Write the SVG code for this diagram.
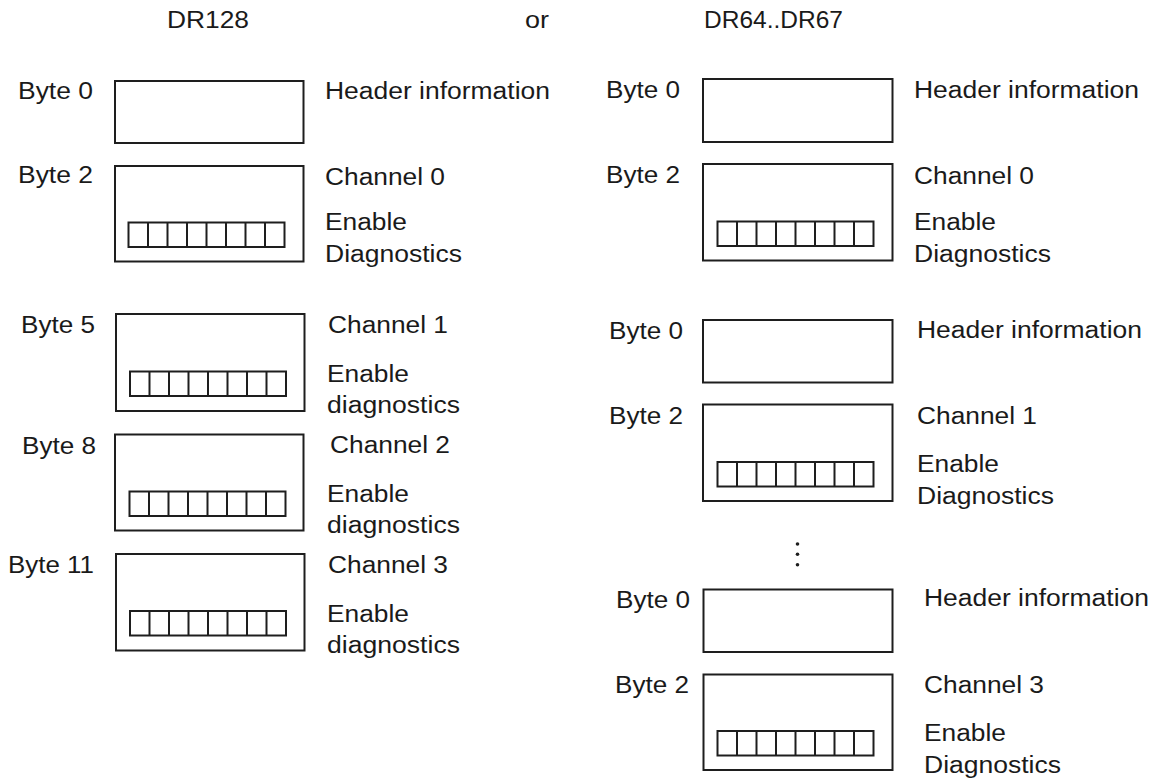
<svg xmlns="http://www.w3.org/2000/svg" width="1152" height="781" viewBox="0 0 1152 781">
  <defs>
    <style>
      .bg { fill: #ffffff; }
      .box { fill: none; stroke: #1e1e1e; stroke-width: 2; }
      .bits { fill: none; stroke: #1e1e1e; stroke-width: 2; }
      .lbl { font-family: "Liberation Sans", Arial, sans-serif; font-size: 23.5px; fill: #1a1a1a; }
      .dot { fill: #1e1e1e; }
    </style>
    <!-- 8-bit enable field: outer frame plus 7 separators (156 x 24.5) -->
    <g id="bitfield">
      <rect class="bits" x="0" y="0" width="156" height="24.5"/>
      <path class="bits" d="M19.5 0V24.5M39 0V24.5M58.5 0V24.5M78 0V24.5M97.5 0V24.5M117 0V24.5M136.5 0V24.5"/>
    </g>
  </defs>

  <rect class="bg" x="0" y="0" width="1152" height="781"/>

  <!-- column titles -->
  <g id="titles">
    <text class="lbl" x="167" y="28" textLength="82" lengthAdjust="spacingAndGlyphs">DR128</text>
    <text class="lbl" x="525" y="28" textLength="24" lengthAdjust="spacingAndGlyphs">or</text>
    <text class="lbl" x="704" y="28" textLength="139" lengthAdjust="spacingAndGlyphs">DR64..DR67</text>
  </g>

  <!-- DR128: one record, header plus four channels -->
  <g id="dr128-header">
    <text class="lbl" x="18" y="99" textLength="75" lengthAdjust="spacingAndGlyphs">Byte 0</text>
    <rect class="box" x="115" y="81" width="188.5" height="62"/>
    <text class="lbl" x="325" y="99" textLength="225" lengthAdjust="spacingAndGlyphs">Header information</text>
  </g>

  <g id="dr128-ch0">
    <text class="lbl" x="18" y="183" textLength="75" lengthAdjust="spacingAndGlyphs">Byte 2</text>
    <rect class="box" x="115" y="166" width="188.5" height="95.5"/>
    <use href="#bitfield" x="128.5" y="222.5"/>
    <text class="lbl" x="325" y="185" textLength="120" lengthAdjust="spacingAndGlyphs">Channel 0</text>
    <text class="lbl" x="325" y="230" textLength="82" lengthAdjust="spacingAndGlyphs">Enable</text>
    <text class="lbl" x="325" y="262" textLength="137" lengthAdjust="spacingAndGlyphs">Diagnostics</text>
  </g>

  <g id="dr128-ch1">
    <text class="lbl" x="21" y="333" textLength="74" lengthAdjust="spacingAndGlyphs">Byte 5</text>
    <rect class="box" x="116" y="314" width="188.5" height="97"/>
    <use href="#bitfield" x="130" y="371.5"/>
    <text class="lbl" x="328" y="333" textLength="120" lengthAdjust="spacingAndGlyphs">Channel 1</text>
    <text class="lbl" x="327" y="381.5" textLength="82" lengthAdjust="spacingAndGlyphs">Enable</text>
    <text class="lbl" x="327" y="413" textLength="133" lengthAdjust="spacingAndGlyphs">diagnostics</text>
  </g>

  <g id="dr128-ch2">
    <text class="lbl" x="22" y="454" textLength="74" lengthAdjust="spacingAndGlyphs">Byte 8</text>
    <rect class="box" x="115" y="434.5" width="188.5" height="96"/>
    <use href="#bitfield" x="129.5" y="491.5"/>
    <text class="lbl" x="330" y="453" textLength="120" lengthAdjust="spacingAndGlyphs">Channel 2</text>
    <text class="lbl" x="327" y="501.5" textLength="82" lengthAdjust="spacingAndGlyphs">Enable</text>
    <text class="lbl" x="327" y="533" textLength="133" lengthAdjust="spacingAndGlyphs">diagnostics</text>
  </g>

  <g id="dr128-ch3">
    <text class="lbl" x="8" y="573" textLength="86" lengthAdjust="spacingAndGlyphs">Byte 11</text>
    <rect class="box" x="116" y="554" width="188.5" height="96.5"/>
    <use href="#bitfield" x="130" y="611"/>
    <text class="lbl" x="328" y="572.5" textLength="120" lengthAdjust="spacingAndGlyphs">Channel 3</text>
    <text class="lbl" x="327" y="621.5" textLength="82" lengthAdjust="spacingAndGlyphs">Enable</text>
    <text class="lbl" x="327" y="652.5" textLength="133" lengthAdjust="spacingAndGlyphs">diagnostics</text>
  </g>

  <!-- DR64..DR67: one record per channel, each with its own header -->
  <g id="dr64-header">
    <text class="lbl" x="606" y="98" textLength="74" lengthAdjust="spacingAndGlyphs">Byte 0</text>
    <rect class="box" x="703" y="79" width="189.5" height="63"/>
    <text class="lbl" x="914" y="98" textLength="225" lengthAdjust="spacingAndGlyphs">Header information</text>
  </g>

  <g id="dr64-ch0">
    <text class="lbl" x="606" y="183" textLength="74" lengthAdjust="spacingAndGlyphs">Byte 2</text>
    <rect class="box" x="703" y="164" width="189.5" height="96.5"/>
    <use href="#bitfield" x="717.5" y="221.5"/>
    <text class="lbl" x="914" y="184" textLength="120" lengthAdjust="spacingAndGlyphs">Channel 0</text>
    <text class="lbl" x="914" y="230" textLength="82" lengthAdjust="spacingAndGlyphs">Enable</text>
    <text class="lbl" x="914" y="262" textLength="137" lengthAdjust="spacingAndGlyphs">Diagnostics</text>
  </g>

  <g id="dr65-header">
    <text class="lbl" x="609" y="339" textLength="74" lengthAdjust="spacingAndGlyphs">Byte 0</text>
    <rect class="box" x="703" y="320" width="189.5" height="62.5"/>
    <text class="lbl" x="917" y="338" textLength="225" lengthAdjust="spacingAndGlyphs">Header information</text>
  </g>

  <g id="dr65-ch1">
    <text class="lbl" x="609" y="424" textLength="74" lengthAdjust="spacingAndGlyphs">Byte 2</text>
    <rect class="box" x="703" y="404.5" width="189.5" height="96.5"/>
    <use href="#bitfield" x="717.5" y="462"/>
    <text class="lbl" x="917" y="424" textLength="120" lengthAdjust="spacingAndGlyphs">Channel 1</text>
    <text class="lbl" x="917" y="471.5" textLength="82" lengthAdjust="spacingAndGlyphs">Enable</text>
    <text class="lbl" x="917" y="504" textLength="137" lengthAdjust="spacingAndGlyphs">Diagnostics</text>
  </g>

  <!-- omitted records -->
  <g id="ellipsis">
    <circle class="dot" cx="797.5" cy="544" r="1.8"/>
    <circle class="dot" cx="797.5" cy="554.3" r="1.8"/>
    <circle class="dot" cx="797.5" cy="564.7" r="1.8"/>
  </g>

  <g id="dr67-header">
    <text class="lbl" x="616" y="608" textLength="74" lengthAdjust="spacingAndGlyphs">Byte 0</text>
    <rect class="box" x="703.5" y="589.5" width="189" height="62.5"/>
    <text class="lbl" x="924" y="606" textLength="225" lengthAdjust="spacingAndGlyphs">Header information</text>
  </g>

  <g id="dr67-ch3">
    <text class="lbl" x="615" y="693" textLength="74" lengthAdjust="spacingAndGlyphs">Byte 2</text>
    <rect class="box" x="703.5" y="674.5" width="189" height="95.5"/>
    <use href="#bitfield" x="717.5" y="731"/>
    <text class="lbl" x="924" y="692.5" textLength="120" lengthAdjust="spacingAndGlyphs">Channel 3</text>
    <text class="lbl" x="924" y="740.5" textLength="82" lengthAdjust="spacingAndGlyphs">Enable</text>
    <text class="lbl" x="924" y="772.5" textLength="137" lengthAdjust="spacingAndGlyphs">Diagnostics</text>
  </g>
</svg>
